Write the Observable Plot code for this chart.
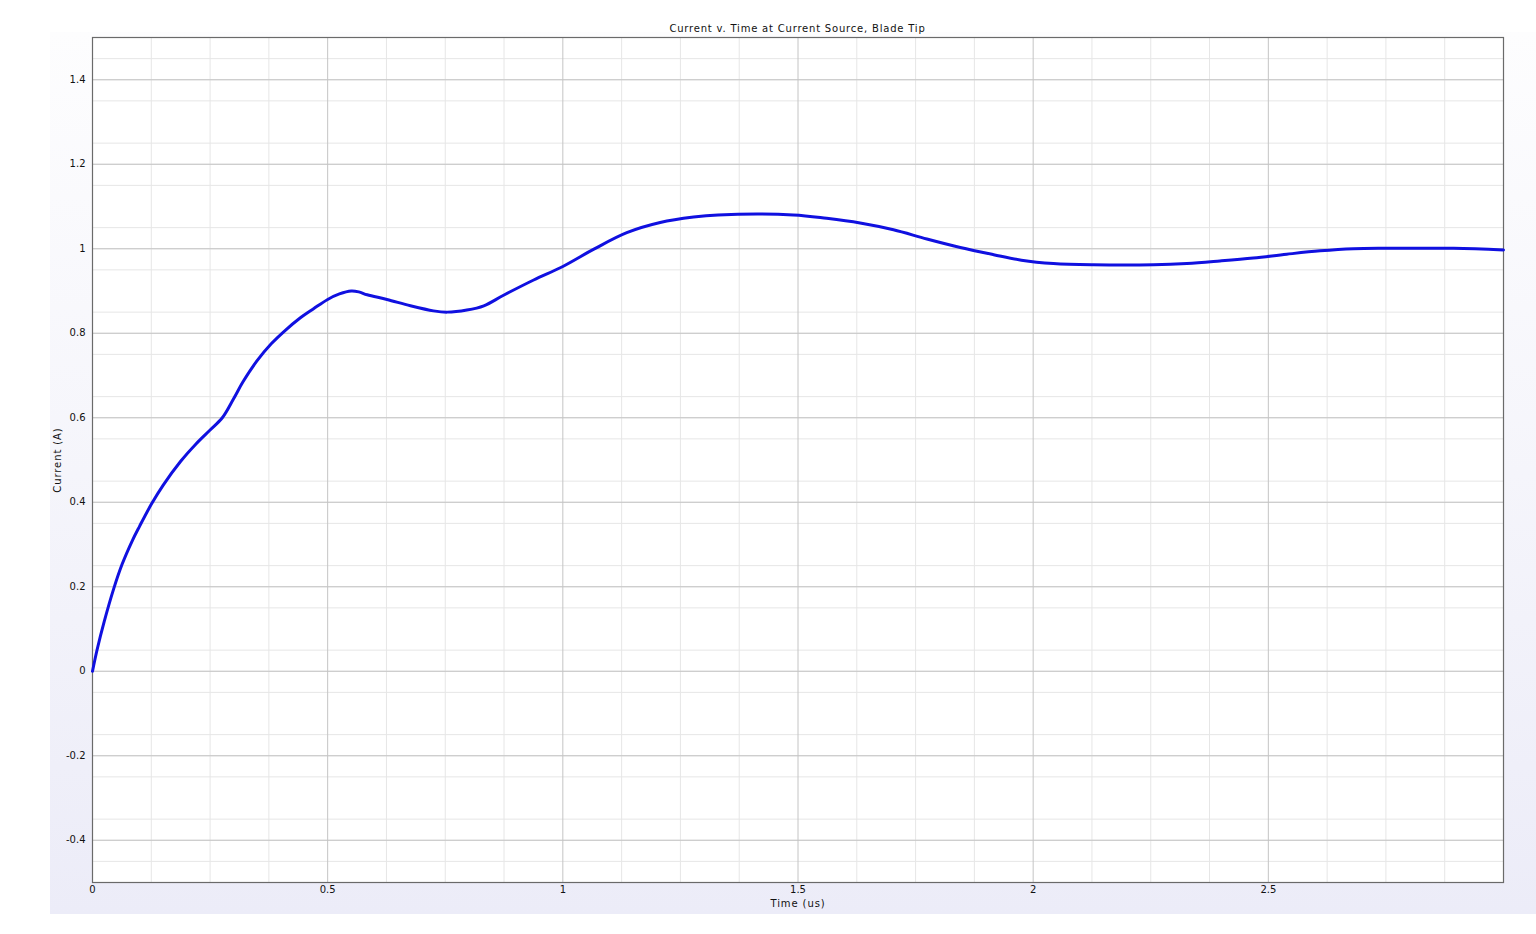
<!DOCTYPE html>
<html>
<head>
<meta charset="utf-8">
<script src="https://cdn.jsdelivr.net/npm/d3@7"></script>
<script src="https://cdn.jsdelivr.net/npm/@observablehq/plot@0.6"></script>
<style>
  body { margin: 0; background: #ffffff; font-family: "DejaVu Sans", sans-serif; }
  #bg { position: absolute; left: 50px; top: 32px; width: 1486px; height: 882px;
        background: linear-gradient(to bottom, #fdfdfe 0%, #f5f5fb 50%, #ececf8 100%); }
  #wrap { position: absolute; left: 0; top: 0; width: 1536px; }
  #title { box-sizing: border-box; height: 30px; padding: 23px 33px 0 92px; text-align: center;
           font-size: 10px; line-height: 12px; color: #111; letter-spacing: 0.8px; }
  #chart svg text.lbl { letter-spacing: 0.9px; }
</style>
</head>
<body>
<div id="bg"></div>
<div id="wrap">
  <div id="title">Current v. Time at Current Source, Blade Tip</div>
  <div id="chart"></div>
</div>
<script>
const timeUs = [0, 0.01, 0.025, 0.045, 0.0625, 0.085, 0.1, 0.125, 0.15, 0.1875, 0.22, 0.25, 0.276,
  0.3, 0.32, 0.35, 0.38, 0.41, 0.44, 0.47, 0.5, 0.525, 0.55, 0.566, 0.584, 0.626, 0.676, 0.725, 0.754, 0.796,
  0.832, 0.874, 0.938, 1.0, 1.066, 1.136, 1.207, 1.278, 1.33, 1.49, 1.561, 1.632, 1.703, 1.774,
  1.845, 1.916, 1.975, 2.043, 2.128, 2.256, 2.327, 2.397, 2.468, 2.539, 2.61, 2.681, 2.752, 2.894, 3.0];
const currentA = [0, 0.052, 0.118, 0.195, 0.252, 0.31, 0.343, 0.395, 0.44, 0.497, 0.538, 0.571, 0.600,
  0.645, 0.685, 0.735, 0.775, 0.807, 0.835, 0.858, 0.880, 0.893, 0.900, 0.898, 0.891, 0.880, 0.865, 0.853, 0.850, 0.855,
  0.865, 0.890, 0.926, 0.958, 0.999, 1.038, 1.062, 1.075, 1.080, 1.080, 1.072, 1.061, 1.045, 1.023,
  1.003, 0.986, 0.973, 0.965, 0.962, 0.962, 0.965, 0.971, 0.978, 0.987, 0.995, 1.000, 1.001, 1.001, 0.997];
const xTicks = [0, 0.5, 1, 1.5, 2, 2.5];
const yTicks = [-0.4, -0.2, 0, 0.2, 0.4, 0.6, 0.8, 1, 1.2, 1.4];
const xLabel = "Time (us)";
const yLabel = "Current (A)";

const data = timeUs.map((t, i) => ({t, v: currentA[i]}));
const xMinor = d3.range(0, 24).map(i => i * 0.125).filter(d => d % 0.5 !== 0);
const xMajor = [0.5, 1, 1.5, 2, 2.5];
const yMinor = d3.range(0, 40).map(i => i).filter(i => i % 4 !== 0).map(i => -0.5 + i * 0.05);
const yMajor = yTicks;

const chart = Plot.plot({
  width: 1536,
  height: 904,
  marginLeft: 92,
  marginRight: 33,
  marginTop: 7,
  marginBottom: 52,
  style: { background: "transparent", fontFamily: "DejaVu Sans, sans-serif", fontSize: "10px", color: "#111" },
  x: { domain: [0, 3] },
  y: { domain: [-0.5, 1.5] },
  marks: [
    Plot.frame({ fill: "#ffffff", stroke: "none" }),
    Plot.ruleX(xMinor, { stroke: "#e6e6e6", strokeWidth: 1 }),
    Plot.ruleY(yMinor, { stroke: "#e6e6e6", strokeWidth: 1 }),
    Plot.ruleX(xMajor, { stroke: "#c4c4c4", strokeWidth: 1 }),
    Plot.ruleY(yMajor, { stroke: "#c4c4c4", strokeWidth: 1 }),
    Plot.frame({ stroke: "#6a6a6a", strokeWidth: 1.2 }),
    Plot.axisX(xTicks, { tickSize: 0, tickPadding: 3, tickFormat: d => String(d), label: null }),
    Plot.axisY(yTicks, { tickSize: 0, tickPadding: 7, tickFormat: d => String(d), label: null }),
    Plot.line(data, { x: "t", y: "v", stroke: "#1010e0", strokeWidth: 3, curve: "catmull-rom" }),
    Plot.text([xLabel], { frameAnchor: "bottom", lineAnchor: "top", dy: 17, fill: "#111", className: "lbl" }),
    Plot.text([yLabel], { frameAnchor: "left", textAnchor: "middle", rotate: -90, dx: -35, fill: "#111", className: "lbl" })
  ]
});
chart.querySelectorAll("g.lbl text, text.lbl").forEach(t => t.style.letterSpacing = "0.9px");
document.getElementById("chart").appendChild(chart);
</script>
</body>
</html>
